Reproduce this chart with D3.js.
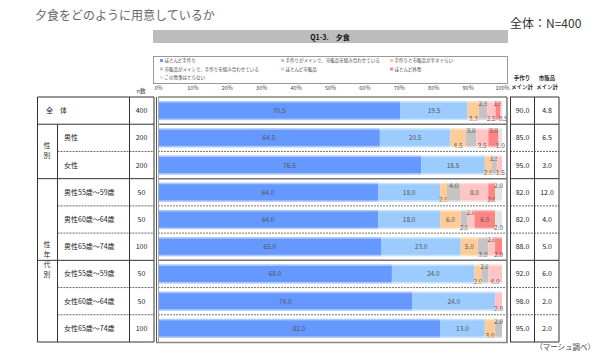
<!DOCTYPE html>
<html><head><meta charset="utf-8">
<script src="https://cdn.jsdelivr.net/npm/d3@7"></script>
<style>body{margin:0;background:#fff}svg{display:block;font-family:"Noto Sans CJK JP",sans-serif}</style>
</head><body><svg id="c" width="600" height="355"></svg>
<script>
const categories = ['ほとんど手作り','手作りがメインで、市販品を組み合わせている','手作りと市販品が半々ぐらい','市販品がメインで、手作りを組み合わせている','ほとんど市販品','ほとんど外食','この食事はとらない'];
const rows = ['全体','男性','女性','男性55歳～59歳','男性60歳～64歳','男性65歳～74歳','女性55歳～59歳','女性60歳～64歳','女性65歳～74歳'];
const nValues = [400,200,200,50,50,100,50,50,100];
const hand      = [70.5,64.5,76.5,64.0,64.0,65.0,68.0,74.0,82.0];
const handMain  = [19.5,20.5,18.5,18.0,18.0,23.0,24.0,24.0,13.0];
const half      = [3.3,4.5,2.0,2.0,6.0,5.0,2.0,0,3.0];
const storeMain = [2.3,3.0,1.5,4.0,2.0,3.0,2.0,0,2.0];
const store     = [2.5,3.5,1.5,8.0,2.0,2.0,4.0,2.0,0];
const eatOut    = [1.5,3.0,0,2.0,6.0,2.0,0,0,0];
const none      = [0.5,1.0,0,2.0,2.0,0,0,0,0];
const handTotal = [90.0,85.0,95.0,82.0,82.0,88.0,92.0,98.0,95.0];
const storeTotal= [4.8,6.5,3.0,12.0,4.0,5.0,6.0,2.0,2.0];
const ticks = [0,10,20,30,40,50,60,70,80,90,100];
const series = [hand,handMain,half,storeMain,store,eatOut,none];
const colors = ['#6699ff','#9ccbfd','#ffcc99','#c4c4c4','#ffc4c4','#ff8585','#e4e4e4'];

const svg = d3.select('#c');
const x = d3.scaleLinear().domain([0,100]).range([158,502]);
const y = d3.scaleBand().domain(rows).range([97,342]);
const barH = 19;

// titles
svg.append('text').attr('x',35).attr('y',20).attr('font-size',12).attr('fill','#666').text('夕食をどのように用意しているか');
svg.append('text').attr('x',510).attr('y',28).attr('font-size',12).attr('fill','#333').text('全体：N=400');
svg.append('rect').attr('x',153).attr('y',30).attr('width',355).attr('height',13).attr('fill','#bcbcbc');
svg.append('text').attr('x',330).attr('y',40).attr('text-anchor','middle').attr('font-size',7).attr('font-weight','bold').attr('fill','#111').text('Q1-3.　夕食');

// legend
svg.append('rect').attr('x',153.5).attr('y',56.5).attr('width',354).attr('height',27).attr('fill','#fff').attr('stroke','#999');
const lgX=[160,281,390], lgY=[62,70.5,79];
categories.forEach((c,i)=>{
  const gx=lgX[i%3], gy=lgY[Math.floor(i/3)];
  svg.append('rect').attr('x',gx).attr('y',gy-3).attr('width',3).attr('height',3).attr('fill',colors[i]);
  svg.append('text').attr('x',gx+4.5).attr('y',gy).attr('font-size',4.5).attr('fill','#444').text(c);
});

// axis labels
const ax = svg.append('g').attr('transform','translate(0,93)').call(d3.axisTop(x).tickValues(ticks).tickSize(0).tickFormat(d=>d+'%'));
ax.select('.domain').remove();
ax.selectAll('text').attr('font-size',5.5).attr('fill','#444').attr('font-family','"Noto Sans CJK JP",sans-serif');

// headers
svg.append('text').attr('x',141).attr('y',93).attr('text-anchor','middle').attr('font-size',5.5).attr('fill','#333').text('n数');
[['手作り','メイン計',522],['市販品','メイン計',547]].forEach(h=>{
  svg.append('text').attr('x',h[2]).attr('y',80).attr('text-anchor','middle').attr('font-size',5.5).attr('font-weight','bold').attr('fill','#333').text(h[0]);
  svg.append('text').attr('x',h[2]).attr('y',89).attr('text-anchor','middle').attr('font-size',5.5).attr('font-weight','bold').attr('fill','#333').text(h[1]);
});

// bars
rows.forEach((r,ri)=>{
  let acc=0, alt=0;
  const last={bottom:-1e9,top:-1e9,middle:-1e9};
  const off={bottom:10,top:-4.5,middle:2.5};
  const gap=12;
  const cy = y(r)+y.bandwidth()/2;
  series.forEach((s,si)=>{
    const v=s[ri];
    if(v<=0){return;}
    const x0=x(acc), x1=x(acc+v);
    let cx=(x0+x1)/2;
    svg.append('rect').attr('x',x0).attr('y',cy-barH/2).attr('width',x1-x0).attr('height',barH).attr('fill',colors[si]);
    let lvl='middle';
    if(v<5){
      const pref = alt%2===0 ? ['bottom','top'] : ['top','bottom'];
      lvl = pref.find(p=>cx-last[p]>=gap);
      if(!lvl){
        lvl = last.bottom<=last.top ? 'bottom' : 'top';
        cx = last[lvl]+gap;
      }
      alt++;
    }
    last[lvl]=cx;
    svg.append('text').attr('x',cx).attr('y',cy+off[lvl]).attr('text-anchor','middle').attr('font-size',6.5).attr('fill','#555').text(v.toFixed(1));
    acc+=v;
  });
  svg.append('rect').attr('x',x(0)).attr('y',cy-barH/2).attr('width',x(acc)-x(0)).attr('height',1.5).attr('fill','#fff').attr('opacity',0.45);
  svg.append('rect').attr('x',x(0)).attr('y',cy+barH/2-1.5).attr('width',x(acc)-x(0)).attr('height',1.5).attr('fill','#fff').attr('opacity',0.45);
});

// table structure
const line=(x1,y1,x2,y2,col,w,dash)=>{const l=svg.append('line').attr('x1',x1).attr('y1',y1).attr('x2',x2).attr('y2',y2).attr('stroke',col).attr('stroke-width',w);if(dash)l.attr('stroke-dasharray',dash);return l;};
const yTop=y.range()[0], yBot=y.range()[1];
const solidAfter=[0,2,5], dashAfter=[1,3,4,6,7];
line(37.5,yTop,154,yTop,'#333',1);
line(37.5,yBot,154,yBot,'#333',1);
line(37.5,yTop,37.5,yBot,'#333',1);
line(129.5,yTop,129.5,yBot,'#333',1);
line(154,yTop,154,yBot,'#333',1);
line(57.5,y(rows[1]),57.5,yBot,'#333',1);
solidAfter.forEach(i=>{const yy=y(rows[i])+y.bandwidth(); line(37.5,yy,154,yy,'#333',1); line(158,yy,507,yy,'#777',1.5); line(510,yy,559,yy,'#333',1);});
dashAfter.forEach(i=>{const yy=y(rows[i])+y.bandwidth(); line(57.5,yy,154,yy,'#444',0.8,'2,1'); line(158,yy,507,yy,'#555',0.8,'2,1'); line(510,yy,559,yy,'#444',0.8,'2,1');});
line(158,yTop,507,yTop,'#444',1);
line(156.5,yTop,156.5,yBot,'#555',1);
line(158.5,yTop,158.5,yBot,'#aaa',1);
line(507,yTop,507,yBot,'#777',1.5);
line(156,yBot+0.5,508,yBot+0.5,'#888',1.5);
line(510,yTop,559,yTop,'#333',1);
line(510,yBot,559,yBot,'#333',1);
line(510.5,yTop,510.5,yBot,'#333',1);
line(534.5,yTop,534.5,yBot,'#333',1);
line(559,yTop,559,yBot,'#333',1);

// left texts
svg.append('text').attr('x',46).attr('y',y(rows[0])+y.bandwidth()/2+2.5).attr('font-size',7).attr('fill','#222').text('全　体');
const grp=(chars,r0,r1)=>{const cy=(y(rows[r0])+y(rows[r1])+y.bandwidth())/2; const n=chars.length; chars.forEach((c,i)=>{svg.append('text').attr('x',47).attr('y',cy+(i-(n-1)/2)*10+1.5).attr('text-anchor','middle').attr('font-size',7).attr('fill','#333').text(c);});};
grp(['性','別'],1,2);
grp(['性','年','代','別'],3,8);
rows.forEach((r,ri)=>{
  const cy=y(r)+y.bandwidth()/2+2.5;
  if(ri>0) svg.append('text').attr('x',64).attr('y',cy).attr('font-size',7).attr('fill','#222').text(r);
  svg.append('text').attr('x',141.5).attr('y',cy).attr('text-anchor','middle').attr('font-size',7).attr('fill','#222').text(nValues[ri]);
  svg.append('text').attr('x',522.5).attr('y',cy).attr('text-anchor','middle').attr('font-size',7).attr('fill','#222').text(handTotal[ri].toFixed(1));
  svg.append('text').attr('x',547).attr('y',cy).attr('text-anchor','middle').attr('font-size',7).attr('fill','#222').text(storeTotal[ri].toFixed(1));
});
svg.append('text').attr('x',595).attr('y',350).attr('text-anchor','end').attr('font-size',7.5).attr('fill','#444').text('（マーシュ調べ）');
</script></body></html>
